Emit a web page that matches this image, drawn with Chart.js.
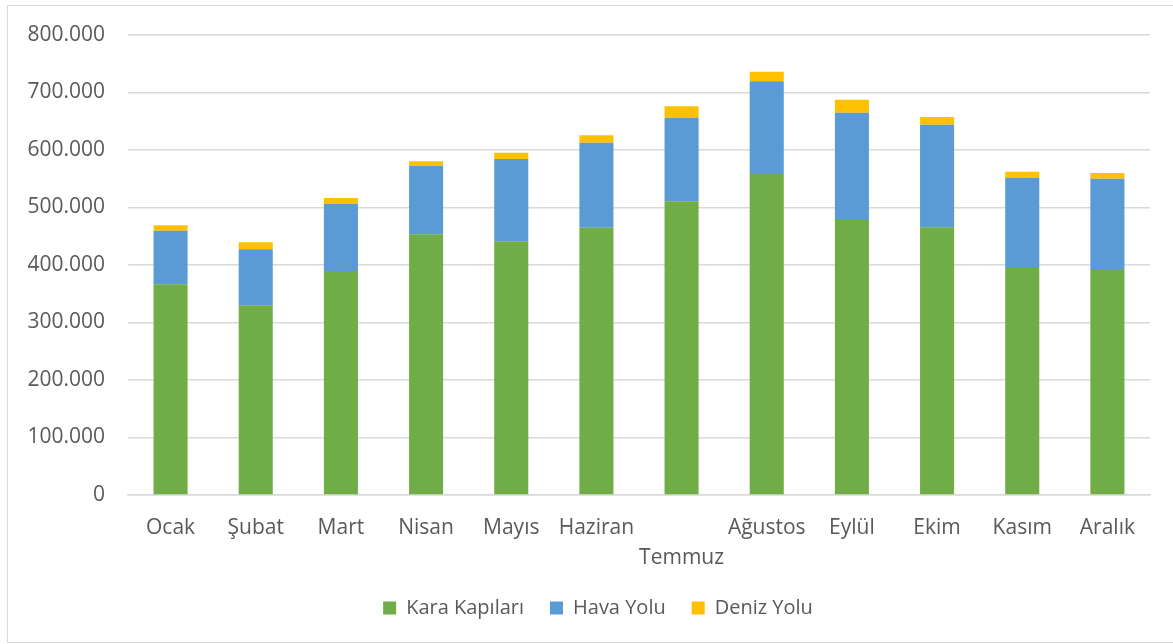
<!DOCTYPE html>
<html>
<head>
<meta charset="utf-8">
<script src="https://cdn.jsdelivr.net/npm/chart.js@4/dist/chart.umd.min.js"></script>
<style>
  body { margin: 0; background: #fff; }
  .box { position: absolute; left: 7px; top: 5px; width: 1166px; height: 636px; border: 1px solid #d9d9d9; }
</style>
</head>
<body>
<div class="box"><canvas id="chart"></canvas></div>
<script>
const months = ['Ocak', 'Şubat', 'Mart', 'Nisan', 'Mayıs', 'Haziran', ['', 'Temmuz'], 'Ağustos', 'Eylül', 'Ekim', 'Kasım', 'Aralık']
const karaKapilari = [366400, 329900, 389600, 453300, 441200, 464900, 510700, 560000, 478300, 465500, 394800, 393000]
const havaYolu = [93300, 97300, 117000, 119400, 143100, 147800, 145500, 159500, 186600, 178500, 157000, 157100]
const denizYolu = [9300, 12200, 9900, 7600, 11000, 12800, 19800, 16700, 22600, 13400, 10500, 9900]

const textColor = '#595959'
const gridColor = '#d9d9d9'

const fmt = v => v.toString().replace(/\B(?=(\d{3})+(?!\d))/g, '.')

// legend sits a bit right of centre in the original
const shiftLegend = {
    id: 'shiftLegend',
    afterLayout(chart) {
        chart.legend.left += 9
        chart.legend.right += 9
    }
}

const ctx = document.getElementById('chart').getContext('2d')
new Chart(ctx, {
    type: 'bar',
    data: {
        labels: months,
        datasets: [
            { label: 'Kara Kapıları', data: karaKapilari, backgroundColor: '#70AD47' },
            { label: 'Hava Yolu', data: havaYolu, backgroundColor: '#5B9BD5' },
            { label: 'Deniz Yolu', data: denizYolu, backgroundColor: '#FFC000' }
        ]
    },
    plugins: [shiftLegend],
    options: {
        responsive: true,
        maintainAspectRatio: false,
        animation: false,
        categoryPercentage: 1,
        barPercentage: 0.4,
        layout: { padding: { top: 29, left: 20, right: 24, bottom: 14 } },
        plugins: {
            tooltip: { enabled: false },
            legend: {
                position: 'bottom',
                labels: {
                    color: textColor,
                    font: { family: 'Open Sans', size: 20 },
                    boxWidth: 13,
                    boxHeight: 13,
                    padding: 26
                }
            }
        },
        scales: {
            x: {
                stacked: true,
                grid: { display: false },
                border: { color: gridColor, width: 1.5 },
                ticks: {
                    color: textColor,
                    font: { family: 'Open Sans', size: 21, lineHeight: 1.43 },
                    padding: 10,
                    maxRotation: 0,
                    autoSkip: false
                },
                afterFit: scale => { scale.height = 77 }
            },
            y: {
                stacked: true,
                min: 0,
                max: 800000,
                grid: { color: gridColor, lineWidth: 1.5, drawTicks: false },
                border: { display: false },
                ticks: {
                    stepSize: 100000,
                    color: textColor,
                    font: { family: 'Open Sans', size: 21 },
                    padding: 23,
                    callback: v => fmt(v)
                },
                afterFit: scale => {
                    scale.width = 100
                    scale.paddingTop = 0
                    scale.paddingBottom = 0
                }
            }
        }
    }
})
</script>
</body>
</html>
